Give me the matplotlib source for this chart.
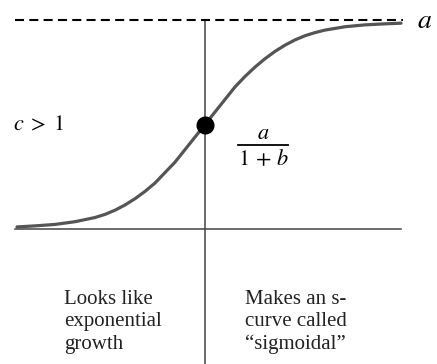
import matplotlib.pyplot as plt

plt.rcParams['mathtext.fontset'] = 'stix'
plt.rcParams['lines.scale_dashes'] = False

# points (x in axis units, y as a fraction of a)
curve_x = [-4.7, -4.25, -3.75, -3.25, -2.75, -2.5, -2.25, -2.0, -1.75, -1.5,
           -1.25, -1.0, -0.75, -0.5, -0.25, 0.0, 0.25, 0.5, 0.75, 1.0,
           1.25, 1.5, 1.75, 2.0, 2.25, 2.5, 2.75, 3.0, 3.5, 4.0, 4.5, 4.9]
curve_y = [0.01, 0.015, 0.022, 0.035, 0.055, 0.07, 0.09, 0.115, 0.145, 0.18,
           0.22, 0.27, 0.32, 0.38, 0.44, 0.50, 0.56, 0.62, 0.68, 0.73,
           0.775, 0.815, 0.85, 0.88, 0.905, 0.925, 0.94, 0.952, 0.968, 0.977, 0.982, 0.985]
asymptote = 1.0
intercept = 0.5
left_note = "Looks like\nexponential\ngrowth"
right_note = "Makes an s-\ncurve called\n\u201csigmoidal\u201d"

fig = plt.figure(figsize=(4.37, 3.64), dpi=100)
ax = fig.add_axes([0, 0, 1, 1])
ax.set_xlim(-5.125, 5.8)
ax.set_ylim(-0.646, 1.096)
ax.axis('off')

# axes lines
ax.plot([-4.75, 4.9], [0, 0], color='#444444', lw=1.1)
ax.plot([0, 0], [asymptote, -0.7], color='#444444', lw=1.1)

# asymptote
ax.plot([-4.75, 4.95], [asymptote, asymptote], color='black', lw=1.5,
        dashes=(6.5, 3.8))
ax.text(5.5, asymptote, r'$a$', fontsize=20, ha='center', va='center')

# curve and y-intercept
ax.plot(curve_x, curve_y, color='#555555', lw=2.3,
        solid_capstyle='round', solid_joinstyle='round')
ax.plot([0], [intercept], 'o', color='black', markersize=12)

ax.text(-4.8, 0.5, r'$c\;>\;1$', fontsize=16, ha='left', va='center')

# a / (1 + b) label
ax.text(1.45, 0.46, r'$a$', fontsize=16, ha='center', va='center')
ax.plot([0.83, 2.07], [0.402, 0.402], color='black', lw=1.3)
ax.text(1.45, 0.335, r'$1\,+\,b$', fontsize=16, ha='center', va='center')

ax.text(-3.53, -0.29, left_note, fontsize=15, family='Liberation Serif',
        color='#222222', ha='left', va='top', linespacing=1.25)
ax.text(1.0, -0.29, right_note, fontsize=15, family='Liberation Serif',
        color='#222222', ha='left', va='top', linespacing=1.25)

fig.savefig('out.png', dpi=100)
